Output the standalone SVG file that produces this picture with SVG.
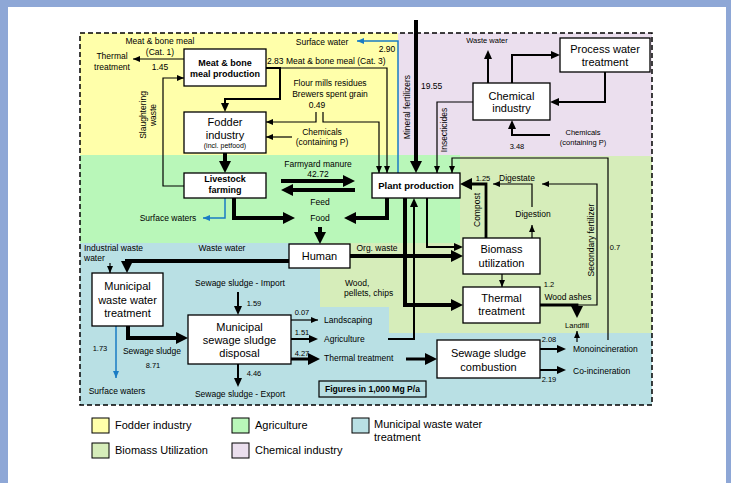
<svg xmlns="http://www.w3.org/2000/svg" width="731" height="483" viewBox="0 0 731 483">
<style>
text{font-family:"Liberation Sans",Arial,sans-serif;fill:#000}
.s{font-size:8.5px}
.xs{font-size:7.5px}
.n{font-size:11px}
.b{font-size:9px;font-weight:bold}
.m{text-anchor:middle}
.lg{font-size:11px}
.box{fill:#fff;stroke:#000;stroke-width:1.3}
.t{fill:none;stroke:#000;stroke-width:1.2}
.md{fill:none;stroke:#000;stroke-width:2}
.k{fill:none;stroke:#000;stroke-width:4}
.bl{fill:none;stroke:#1a7cc4;stroke-width:1.5}
</style>
<defs>
<marker id="as" markerUnits="userSpaceOnUse" markerWidth="7" markerHeight="6" refX="7" refY="3" orient="auto"><path d="M0,0L7,3L0,6z" fill="#000"/></marker>
<marker id="am" markerUnits="userSpaceOnUse" markerWidth="9" markerHeight="8" refX="6" refY="4" orient="auto"><path d="M0,0L9,4L0,8z" fill="#000"/></marker>
<marker id="al" markerUnits="userSpaceOnUse" markerWidth="12" markerHeight="12" refX="4" refY="6" orient="auto"><path d="M0,0L12,6L0,12z" fill="#000"/></marker>
<marker id="ab" markerUnits="userSpaceOnUse" markerWidth="7" markerHeight="6" refX="7" refY="3" orient="auto"><path d="M0,0L7,3L0,6z" fill="#1a7cc4"/></marker>
</defs>
<rect width="731" height="483" fill="#8ea7d6"/>
<rect x="8" y="7" width="718" height="476" fill="#fff"/>
<g id="regions">
<rect x="80" y="33" width="318" height="122" fill="#ffffaa"/>
<rect x="398" y="33" width="254" height="123" fill="#ebdfee"/>
<rect x="80" y="155" width="380" height="88" fill="#b9f7b9"/>
<polygon points="460,156 652,156 652,333 389,333 389,307 320,307 320,243 460,243" fill="#d6edba"/>
<polygon points="80,243 320,243 320,307 389,307 389,333 652,333 652,405 80,405" fill="#b9e0e4"/>
<rect x="80" y="33" width="572" height="372" fill="none" stroke="#000" stroke-width="1.5" stroke-dasharray="5,3"/>
</g>
<g id="connectors">
<path class="t" d="M184,59H133" marker-end="url(#as)"/>
<path class="t" d="M184,186H163V78H184" marker-end="url(#as)"/>
<path class="md" d="M266,68H280V99H225V109" marker-end="url(#am)"/>
<path class="t" d="M280,68H387V173" marker-end="url(#as)"/>
<path class="t" d="M316,112V122H266" marker-end="url(#as)"/>
<path class="t" d="M323,112V122H379V173" marker-end="url(#as)"/>
<path class="t" d="M292,137H266" marker-end="url(#as)"/>
<path class="k" d="M225,153V165" marker-end="url(#al)"/>
<path class="bl" d="M398,173V41H357" marker-end="url(#ab)"/>
<path class="k" d="M416,20V165" marker-end="url(#al)"/>
<path class="t" d="M473,102H437V173" marker-end="url(#as)"/>
<path class="md" d="M488,83V53" marker-end="url(#am)"/>
<path class="md" d="M512,83V55H557" marker-end="url(#am)"/>
<path class="md" d="M605,72V102H553" marker-end="url(#am)"/>
<path class="md" d="M550,135H512V123" marker-end="url(#am)"/>
<path class="k" d="M281,181H347" marker-end="url(#al)"/>
<path class="k" d="M355,190H289" marker-end="url(#al)"/>
<path class="k" d="M234,198V218H287" marker-end="url(#al)"/>
<path class="k" d="M387,198V218H352" marker-end="url(#al)"/>
<path class="k" d="M320,227V236" marker-end="url(#al)"/>
<path class="bl" d="M225,198V218H203" marker-end="url(#ab)"/>
<path class="k" d="M405,198V305H455" marker-end="url(#al)"/>
<path class="md" d="M388,339H414V201" marker-end="url(#am)"/>
<path class="md" d="M427,198V247H460" marker-end="url(#am)"/>
<path class="k" style="stroke-width:2.8" d="M486,238V184H468" marker-end="url(#al)"/>
<path class="t" d="M532,207V184H493" marker-end="url(#as)"/>
<path class="t" d="M532,238V225" marker-end="url(#as)"/>
<path class="t" d="M577,305H597V184H542" marker-end="url(#as)"/>
<path class="k" style="stroke-width:2.8" d="M540,305H577V310" marker-end="url(#al)"/>
<path class="t" d="M608,340V158H452V173" marker-end="url(#as)"/>
<path class="t" d="M577,342V331" marker-end="url(#as)"/>
<path class="t" d="M110,263V273" marker-end="url(#as)"/>
<path class="k" d="M289,261H127V265" marker-end="url(#al)"/>
<path class="k" d="M350,256H455" marker-end="url(#al)"/>
<path class="bl" d="M116,326V378" marker-end="url(#ab)"/>
<path class="k" d="M128,326V338H180" marker-end="url(#al)"/>
<path class="md" d="M238,292V312" marker-end="url(#am)"/>
<path class="md" d="M238,364V384" marker-end="url(#am)"/>
<path class="t" d="M291,320H318" marker-end="url(#as)"/>
<path class="md" d="M291,339H315" marker-end="url(#am)"/>
<path class="k" style="stroke-width:3" d="M291,359H312" marker-end="url(#al)"/>
<path class="k" style="stroke-width:3" d="M406,359H429" marker-end="url(#al)"/>
<path class="t" d="M502,274V287" marker-end="url(#as)"/>
<path class="md" d="M540,349H563" marker-end="url(#am)"/>
<path class="md" d="M540,370H563" marker-end="url(#am)"/>
</g>
<g id="labels">
<text class="s m" x="160" y="44">Meat &amp; bone meal</text>
<text class="s m" x="160" y="55">(Cat. 1)</text>
<text class="s m" x="160" y="70">1.45</text>
<text class="s m" x="112" y="59">Thermal</text>
<text class="s m" x="112" y="70">treatment</text>
<text class="s m" transform="translate(146,115) rotate(-90)">Slaughtering</text>
<text class="s m" transform="translate(156,115) rotate(-90)">waste</text>
<text class="s m" x="322" y="45">Surface water</text>
<text class="s m" x="387" y="52">2.90</text>
<text class="s" x="267" y="64">2.83 Meat &amp; bone meal (Cat. 3)</text>
<text class="s m" x="330" y="86">Flour mills residues</text>
<text class="s m" x="330" y="97">Brewers spent grain</text>
<text class="s m" x="317" y="108">0.49</text>
<text class="s m" x="322" y="135">Chemicals</text>
<text class="s m" x="322" y="145">(containing P)</text>
<text class="s m" transform="translate(410,107) rotate(-90)">Mineral fertilizers</text>
<text class="s" x="421" y="89">19.55</text>
<text class="s m" transform="translate(447,130) rotate(-90)">Insecticides</text>
<text class="xs m" x="487" y="43">Waste water</text>
<text class="xs m" x="583" y="135">Chemicals</text>
<text class="xs m" x="583" y="145">(containing P)</text>
<text class="xs m" x="517" y="149">3.48</text>
<text class="s m" x="318" y="167">Farmyard manure</text>
<text class="s m" x="318" y="177">42.72</text>
<text class="s m" x="320" y="205">Feed</text>
<text class="s m" x="320" y="221">Food</text>
<text class="s m" x="168" y="221">Surface waters</text>
<text class="s" x="84" y="251">Industrial  waste</text>
<text class="s" x="84" y="261">water</text>
<text class="s m" x="222" y="251">Waste water</text>
<text class="s m" x="377" y="251">Org. waste</text>
<text class="s m" transform="translate(480,210) rotate(-90)">Compost</text>
<text class="xs m" x="483" y="181">1.25</text>
<text class="s m" x="517" y="181">Digestate</text>
<text class="s m" x="533" y="217">Digestion</text>
<text class="s m" transform="translate(594,240) rotate(-90)">Secondary fertilizer</text>
<text class="xs m" x="615" y="250">0.7</text>
<text class="xs m" x="549" y="287">1.2</text>
<text class="s m" x="568" y="300">Wood ashes</text>
<text class="xs m" x="577" y="328">Landfill</text>
<text class="s" x="345" y="286">Wood,</text>
<text class="s" x="344" y="296">pellets, chips</text>
<text class="s m" x="240" y="286">Sewage sludge - Import</text>
<text class="xs m" x="254" y="306">1.59</text>
<text class="xs m" x="254" y="376">4.46</text>
<text class="s m" x="240" y="397">Sewage sludge - Export</text>
<text class="xs m" x="100" y="351">1.73</text>
<text class="s m" x="152" y="354">Sewage sludge</text>
<text class="xs m" x="153" y="368">8.71</text>
<text class="s m" x="117" y="394">Surface waters</text>
<text class="xs m" x="302" y="315">0.07</text>
<text class="s" x="324" y="323">Landscaping</text>
<text class="xs m" x="302" y="335">1.51</text>
<text class="s" x="324" y="342">Agriculture</text>
<text class="xs m" x="302" y="356">4.27</text>
<text class="s" x="324" y="361">Thermal treatment</text>
<text class="xs m" x="549" y="342">2.08</text>
<text class="s" x="573" y="352">Monoincineration</text>
<text class="s" x="573" y="374">Co-incineration</text>
<text class="xs m" x="549" y="382">2.19</text>
</g>
<g id="meat">
<rect class="box" x="184" y="49" width="82" height="37"/>
<text class="b m" x="225" y="66">Meat &amp; bone</text>
<text class="b m" x="225" y="77">meal production</text>
</g>
<g id="fodder">
<rect class="box" x="184" y="112" width="82" height="41"/>
<text class="n m" x="225" y="126">Fodder</text>
<text class="n m" x="225" y="139">industry</text>
<text class="m" style="font-size:7px" x="225" y="148">(incl. petfood)</text>
</g>
<g id="livestock">
<rect class="box" x="184" y="173" width="82" height="25"/>
<text class="b m" x="225" y="182">Livestock</text>
<text class="b m" x="225" y="193">farming</text>
</g>
<g id="plant">
<rect class="box" x="372" y="173" width="88" height="25"/>
<text class="b m" style="font-size:9.5px" x="416" y="188.5">Plant production</text>
</g>
<g id="human">
<rect class="box" x="289" y="244" width="61" height="24"/>
<text class="n m" x="319.5" y="260">Human</text>
</g>
<g id="mwwt">
<rect class="box" x="92" y="273" width="71" height="53"/>
<text class="n m" x="127.5" y="290">Municipal</text>
<text class="n m" x="127.5" y="304">waste water</text>
<text class="n m" x="127.5" y="317">treatment</text>
</g>
<g id="msd">
<rect class="box" x="188" y="315" width="103" height="49"/>
<text class="n m" x="239.5" y="331">Municipal</text>
<text class="n m" x="239.5" y="344">sewage sludge</text>
<text class="n m" x="239.5" y="357">disposal</text>
</g>
<g id="ssc">
<rect class="box" x="437" y="340" width="103" height="38"/>
<text class="n m" x="488.5" y="357">Sewage sludge</text>
<text class="n m" x="488.5" y="371">combustion</text>
</g>
<g id="thermal">
<rect class="box" x="463" y="287" width="77" height="36"/>
<text class="n m" x="501.5" y="302">Thermal</text>
<text class="n m" x="501.5" y="315">treatment</text>
</g>
<g id="biomass">
<rect class="box" x="463" y="238" width="77" height="36"/>
<text class="n m" x="501.5" y="253">Biomass</text>
<text class="n m" x="501.5" y="267">utilization</text>
</g>
<g id="chemical">
<rect class="box" x="473" y="83" width="77" height="37"/>
<text class="n m" x="511.5" y="100">Chemical</text>
<text class="n m" x="511.5" y="112">industry</text>
</g>
<g id="process">
<rect class="box" x="560" y="38" width="90" height="34"/>
<text class="n m" x="605" y="53">Process water</text>
<text class="n m" x="605" y="66">treatment</text>
</g>
<g id="figures">
<rect x="319" y="381" width="107" height="16" fill="none" stroke="#000" stroke-width="1.2"/>
<text class="m" style="font-size:8.6px;font-weight:bold" x="372.5" y="392">Figures in 1,000 Mg P/a</text>
</g>
<g id="legend">
<rect x="92" y="418" width="17" height="15" fill="#ffffaa" stroke="#000"/>
<text class="lg" x="115" y="429">Fodder industry</text>
<rect x="92" y="443" width="17" height="15" fill="#d6edba" stroke="#000"/>
<text class="lg" x="115" y="454">Biomass Utilization</text>
<rect x="232" y="418" width="17" height="15" fill="#b9f7b9" stroke="#000"/>
<text class="lg" x="255" y="429">Agriculture</text>
<rect x="232" y="443" width="17" height="15" fill="#ebdfee" stroke="#000"/>
<text class="lg" x="255" y="454">Chemical industry</text>
<rect x="352" y="418" width="17" height="15" fill="#b9e0e4" stroke="#000"/>
<text class="lg" x="374" y="428">Municipal waste water</text>
<text class="lg" x="374" y="441">treatment</text>
</g>
</svg>
